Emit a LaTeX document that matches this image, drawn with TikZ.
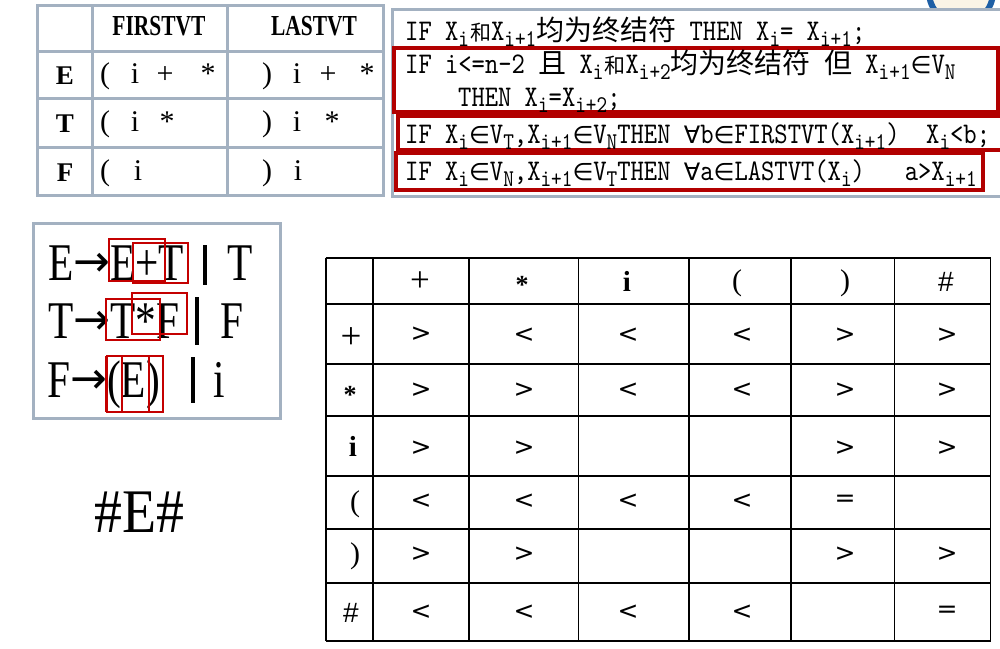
\documentclass[tikz,border=0pt]{standalone}
\usepackage{fontspec}
\setmainfont{Liberation Serif}
\newfontfamily\cf{lmmono10-regular.otf}[FakeStretch=0.845]
\newfontfamily\cjk{Noto Sans CJK SC}
\newfontfamily\symf{DejaVu Sans}
\newfontfamily\hdr{Liberation Serif}[FakeStretch=0.74]
\newfontfamily\gram{Liberation Serif}[FakeStretch=0.78]
\newfontfamily\shp{Liberation Serif}[FakeStretch=0.9]
\newfontfamily\hsans{Liberation Sans}
\definecolor{tblgray}{RGB}{163,177,193}
\definecolor{darkred}{RGB}{178,0,0}
\definecolor{thinred}{RGB}{196,0,0}
\definecolor{logoblue}{RGB}{30,95,165}
\definecolor{logofill}{RGB}{250,244,230}
\newcommand\Sb[1]{\raisebox{-6.5pt}{\fontsize{24}{24}\selectfont #1}}
\newcommand\CJ[1]{{\cjk\fontsize{28}{28}\selectfont #1}}
\newcommand\CJs[1]{{\cjk\fontsize{21}{21}\selectfont #1}}
\newcommand\In{{\symf\fontsize{24}{24}\selectfont ∈}}
\newcommand\All{{\symf\fontsize{24}{24}\selectfont ∀}}
\newcommand\Arr{\raisebox{4pt}{\symf\fontsize{44}{44}\selectfont →}}
\begin{document}
\begin{tikzpicture}[x=1pt,y=-1pt,
  grayline/.style={draw=tblgray,line width=3pt},
  redbox/.style={draw=darkred,line width=4pt},
  thinbox/.style={draw=thinred,line width=1.3pt},
  code/.style={anchor=base west,inner sep=0pt,font=\cf\fontsize{30}{30}\selectfont},
  hd/.style={anchor=base,inner sep=0pt,font=\hdr\bfseries\fontsize{29}{29}\selectfont},
  lab/.style={anchor=base,inner sep=0pt,font=\bfseries\fontsize{27}{27}\selectfont},
  cell/.style={anchor=base,inner sep=0pt,font=\fontsize{30}{30}\selectfont},
  gr/.style={anchor=base west,inner sep=0pt,font=\gram\fontsize{53}{53}\selectfont},
  bar/.style={line width=3.5pt,line cap=butt},
  tb/.style={line width=1.6pt},
  th/.style={inner sep=0pt,font=\fontsize{30}{30}\selectfont},
  thp/.style={inner sep=0pt,font=\fontsize{35}{35}\selectfont},
  thb/.style={inner sep=0pt,font=\bfseries\fontsize{29}{29}\selectfont},
  ths/.style={inner sep=0pt,font=\bfseries\fontsize{26}{26}\selectfont},
  thh/.style={inner sep=0pt,font=\hsans\fontsize{28}{28}\selectfont},
  ent/.style={inner sep=0pt,font=\symf\fontsize{25}{25}\selectfont}]
\useasboundingbox (0,0) rectangle (1000,648);
\fill[white] (0,0) rectangle (1000,648);

% logo fragment
\draw[logoblue,line width=6pt,fill=logofill] (961,-8) circle (32);

% rules box
\draw[grayline,fill=white] (392,9) rectangle (1012,196);
\draw[redbox] (394,48) rectangle (998,112);
\draw[redbox] (398,116) rectangle (1006,150);
\draw[redbox] (396,153) rectangle (983,190);

\node[code] (c1) at (405,40) {IF X\Sb{i}\hspace{1pt}\CJs{和}X\Sb{i+1}\CJ{均为终结符} THEN X\Sb{i}= X\Sb{i+1};};
\node[code] (c2) at (405,73) {IF i<=n-2 \CJ{且} X\Sb{i}\hspace{1pt}\CJs{和}X\Sb{i+2}\CJ{均为终结符} \CJ{但} X\Sb{i+1}\In V\Sb{N}};
\node[code] (c2b) at (458,106) {THEN X\Sb{i}=X\Sb{i+2};};
\node[code] (c3) at (405,143) {IF X\Sb{i}\In V\Sb{T},X\Sb{i+1}\In V\Sb{N}THEN \All b\In FIRSTVT(X\Sb{i+1})\ \ X\Sb{i}<b;};
\node[code] (c4) at (405,180) {IF X\Sb{i}\In V\Sb{N},X\Sb{i+1}\In V\Sb{T}THEN \All a\In LASTVT(X\Sb{i})\ \ \ a>X\Sb{i+1}};

% FIRSTVT / LASTVT table
\draw[grayline] (37,5) rectangle (383,195);
\draw[grayline] (92,5) -- (92,195);
\draw[grayline] (227,5) -- (227,195);
\draw[grayline] (37,51) -- (383,51);
\draw[grayline] (37,98) -- (383,98);
\draw[grayline] (37,147) -- (383,147);
\node[hd] (hf) at (159,35) {FIRSTVT};
\node[hd] (hl) at (314,35) {LASTVT};
\node[lab] (le) at (65,84) {E};
\node[lab] (lt) at (65,132) {T};
\node[lab] (lf) at (65,181) {F};
\node[cell] (e1) at (105,83) {(};
\node[cell] (e2) at (135,83) {i};
\node[cell] (e3) at (165,83) {+};
\node[cell] (e4) at (208,83) {*};
\node[cell] (e5) at (267,83) {)};
\node[cell] (e6) at (297,83) {i};
\node[cell] (e7) at (328,83) {+};
\node[cell] (e8) at (367,83) {*};
\node[cell] (t1) at (105,131) {(};
\node[cell] (t2) at (135,131) {i};
\node[cell] (t3) at (167,131) {*};
\node[cell] (t4) at (267,131) {)};
\node[cell] (t5) at (297,131) {i};
\node[cell] (t6) at (332,131) {*};
\node[cell] (f1) at (105,180) {(};
\node[cell] (f2) at (138,180) {i};
\node[cell] (f3) at (267,180) {)};
\node[cell] (f4) at (298,180) {i};

% grammar box
\draw[grayline] (33,223) rectangle (280,418);
\node[gr] (g1) at (48,280) {E\Arr E+T};
\node[gr] (g1b) at (227,280) {T};
\node[gr] (g2) at (48,338) {T\Arr T*F};
\node[gr] (g2b) at (220,338) {F};
\node[gr] (g3) at (47,397) {F\Arr(E)};
\node[gr] (g3b) at (213,397) {i};
\draw[bar] (205,245) -- (205,285);
\draw[bar] (197,297) -- (197,345);
\draw[bar] (193,357) -- (193,403);
\draw[thinbox] (109,239) rectangle (165,281);
\draw[thinbox] (133,243) rectangle (188,283);
\draw[thinbox] (106,299) rectangle (160,340);
\draw[thinbox] (132,293) rectangle (187,334);
\draw[thinbox] (107,356) rectangle (163,412);
\draw[thinbox] (122,356) rectangle (149,412);
\draw[thinbox] (106,356) -- (106,412);

% #E#
\node[anchor=base west,inner sep=0pt,font=\shp\fontsize{62}{62}\selectfont] (se) at (94,532) {\#E\#};

% precedence table
\foreach \x in {325.7,373,469,578.5,689,791,894.5,990.5} \draw[tb] (\x,258) -- (\x,641);
\foreach \y in {258,304,364,416,476,529,583,641} \draw[tb] (325.7,\y) -- (990.5,\y);
\node[thp] (hp) at (420,282) {+};
\node[ths] (hs) at (522,285) {*};
\node[thb] (hi) at (627,281) {i};
\node[th] (ho) at (737,283) {(};
\node[th] (hc) at (845,283) {)};
\node[thh] (hh) at (946,282) {\#};
\node[thp,font=\fontsize{37}{37}\selectfont] (rp) at (351,338) {+};
\node[ths] (rs) at (350,395) {*};
\node[thb] (ri) at (353,446) {i};
\node[th] (ro) at (355,504) {(};
\node[th] (rc) at (355,556) {)};
\node[thh] (rh) at (351,613) {\#};
% row +
\node[ent] (a1) at (421,334) {>};
\node[ent] (a2) at (524,335) {<};
\node[ent] (a3) at (628,335) {<};
\node[ent] (a4) at (742,335) {<};
\node[ent] (a5) at (845,335) {>};
\node[ent] (a6) at (947,335) {>};
% row *
\node[ent] (b1) at (421,390) {>};
\node[ent] (b2) at (524,390) {>};
\node[ent] (b3) at (628,390) {<};
\node[ent] (b4) at (742,390) {<};
\node[ent] (b5) at (845,390) {>};
\node[ent] (b6) at (947,390) {>};
% row i
\node[ent] (c1x) at (421,448) {>};
\node[ent] (c2x) at (524,448) {>};
\node[ent] (c5x) at (845,448) {>};
\node[ent] (c6x) at (947,448) {>};
% row (
\node[ent] (d1) at (421,501) {<};
\node[ent] (d2) at (524,501) {<};
\node[ent] (d3) at (628,501) {<};
\node[ent] (d4) at (742,501) {<};
\node[ent] (d5) at (845,501) {=};
% row )
\node[ent] (f1x) at (421,554) {>};
\node[ent] (f2x) at (524,554) {>};
\node[ent] (f5x) at (845,554) {>};
\node[ent] (f6x) at (947,554) {>};
% row #
\node[ent] (g1x) at (421,612) {<};
\node[ent] (g2x) at (524,612) {<};
\node[ent] (g3x) at (628,612) {<};
\node[ent] (g4x) at (742,612) {<};
\node[ent] (g6x) at (947,612) {=};
\end{tikzpicture}
\end{document}
